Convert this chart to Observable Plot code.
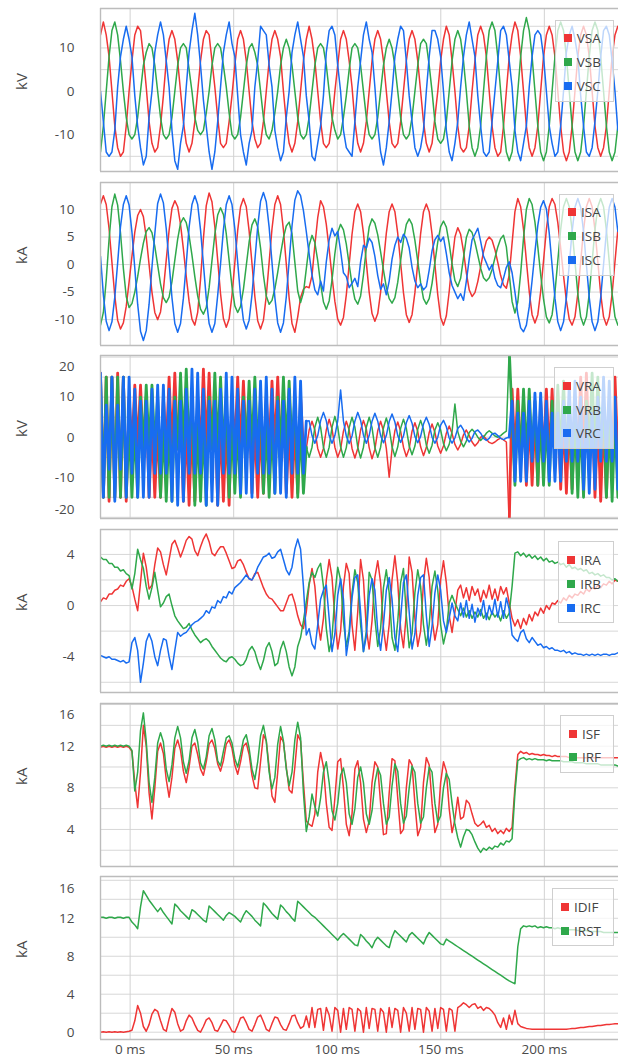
<!DOCTYPE html>
<html><head><meta charset="utf-8">
<script src="https://cdn.jsdelivr.net/npm/d3@7"></script>
<script src="https://cdn.jsdelivr.net/npm/@observablehq/plot@0.6"></script>
<style>
html,body{margin:0;padding:0;background:#fff;}
#chart{position:relative;width:618px;height:1063px;overflow:hidden;font-family:'Open Sans',sans-serif;}
#chart svg{position:absolute;left:0;}
.legend{position:absolute;right:4px;background:rgba(255,255,255,0.72);border:1px solid #cfcfcf;padding:6px 12px 3px 8px;font-size:13.5px;color:#444;}
.legend .row{display:flex;align-items:center;height:23.7px;white-space:nowrap;}
.legend .sw{width:8px;height:8px;margin-right:5px;}
</style></head><body><div id="chart"></div>
<script>
// sampling clock of the record
const t0 = -14.3;   // ms, first sample
const dt = 1.38;    // ms between samples
const N = 182;
const xTicksMs = [0, 50, 100, 150, 200];

// ---- panel 1: source voltages, kV
const VSA = [13,
 16,13,8,0,-8,-13,-15,-14,-8,0,7,13,
 15,14,8,1,-7,-12,-14,-13,-8,-1,7,12,
 14,12,7,0,-7,-12,-14,-12,-7,0,7,12,
 14,13,7,1,-6,-12,-13,-12,-7,-1,6,12,
 14,12,7,0,-7,-11,-13,-12,-7,0,7,12,
 14,12,8,0,-7,-12,-14,-12,-7,0,7,12,
 15,12,7,0,-7,-12,-13,-12,-7,0,6,12,
 14,12,7,1,-7,-12,-14,-12,-7,0,7,12,
 14,12,7,0,-7,-12,-13,-12,-7,0,7,12,
 14,12,7,0,-7,-12,-14,-12,-6,0,7,12,
 15,13,7,0,-8,-13,-14,-13,-8,0,7,13,
 15,13,8,0,-8,-13,-15,-14,-8,0,8,13,
 16,14,8,0,-8,-13,-15,-13,-8,0,8,13,
 15,13,8,0,-8,-14,-16,-14,-8,0,8,13,
 15,13,8,0,-8,-13,-15,-13,-8,0,8,13,
 15];
const VSB = [-14,-8,0,8,14,
 16,13,7,0,-6,-10,-11,-10,-6,0,6,9,
 11,10,6,0,-6,-10,-11,-10,-6,0,6,10,
 11,10,5,0,-6,-9,-10,-9,-5,0,6,10,
 11,10,6,1,-5,-10,-11,-10,-6,0,6,10,
 11,9,6,0,-6,-10,-11,-9,-5,0,6,10,
 12,10,6,0,-6,-10,-11,-10,-6,0,6,10,
 11,10,6,0,-6,-9,-11,-10,-6,-1,5,10,
 11,10,6,0,-6,-10,-11,-10,-6,0,6,10,
 12,10,6,0,-6,-10,-11,-10,-6,0,6,11,
 12,11,6,0,-7,-11,-12,-11,-7,0,7,12,
 14,12,7,0,-8,-13,-15,-13,-8,0,8,14,
 16,14,8,0,-8,-14,-16,-14,-8,0,8,14,
 17,14,8,0,-8,-14,-16,-14,-8,0,8,14,
 16,14,8,0,-8,-14,-16,-14,-8,0,8,14,
 16,14,8,0,-8,-14,-16,-14,-8];
const VSC = [0,-7,-14,-15,-14,-9,1,8,12,
 15,12,8,-1,-8,-13,-17,-15,-6,0,9,13,
 16,13,7,1,-9,-16,-18,-12,-8,1,9,14,
 18,13,6,-2,-8,-14,-18,-14,-7,1,9,13,
 16,11,8,-1,-10,-14,-17,-12,-9,1,7,15,
 14,13,6,1,-9,-13,-16,-14,-6,0,9,13,
 16,12,8,-1,-7,-15,-16,-12,-8,-1,9,14,
 15,13,6,0,-9,-13,-14,-15,-7,1,7,13,
 16,12,9,1,-8,-14,-17,-13,-7,0,8,12,
 15,14,7,-1,-7,-13,-15,-13,-9,0,8,14,
 14,12,8,0,-9,-14,-16,-12,-7,1,8,13,
 16,12,8,-1,-8,-14,-15,-14,-7,0,7,14,
 15,13,7,1,-9,-14,-16,-12,-8,1,8,13,
 14,13,8,0,-8,-12,-15,-14,-8,0,9,13,
 15,12,8,-1,-8,-14,-15,-13,-7,0,8,14,
 15,13,7,0,-9];

// ---- panel 2: source currents, kA
const ISA = [11,12.5,10.9,6.5,0.4,-5.7,-10.1,-11.7,-10.6,-7.6,-3.2,1.5,
 5.9,8.9,10,8.7,5,0,-5,-8.7,-10,-8.6,-4.6,0.8,
 6.2,10.2,11.6,10.5,7.3,2.8,-2.2,-6.7,-9.9,-11,-8.7,-2.7,
 4.7,10.7,13,11.4,6.9,0.8,-5.3,-9.8,-11.4,-9.9,-5.6,0.3,
 6.2,10.5,12,10.5,6.1,0.2,-5.8,-10.2,-11.7,-10.1,-5.7,0.4,
 6.5,10.9,12.5,10.9,6.3,0.1,-6.1,-10.7,-12.3,-9.5,-6,-4.5,
 -4,-4.2,-2,3.5,8.5,11.6,10.5,7.3,2.8,-2.2,-6.7,-9.9,
 -11,-9.6,-5.5,0,5.5,9.6,11,9.6,5.7,0.4,-5,-8.9,
 -10.3,-8.9,-5,0.4,5.7,9.6,11,9.6,5.6,0.3,-5.1,-9.1,
 -10.5,-9.1,-5.1,0.3,5.6,9.6,11,9.6,5.5,0,-5.5,-9.6,
 -11,-9.3,-4.9,0.6,5,6.7,5.5,2.4,-1.5,-4.6,-5.8,-5.1,
 -3.1,-0.4,2.3,4.3,5,4.4,2.7,0.4,-2,-3.7,-4.3,-1.9,
 3.9,9.6,12,10.5,6.4,0.7,-4.9,-9.1,-10.6,-9.1,-4.9,0.7,
 6.4,10.5,12,10.9,7.6,3,-2,-6.6,-9.9,-11,-9.5,-5.3,
 0.5,6.3,10.5,12,10.5,6.3,0.5,-5.3,-9.5,-11,-9.5,-5.3,
 0.5,6.3];
const ISB = [-11,-8.7,-2.8,4.6,10.5,12.8,10.8,5.7,-0.7,-5.8,-7.8,-7.1,
 -5,-2.2,1.05,3.9,6,6.7,5.8,3.3,-0.1,-3.5,-6,-6.9,
 -5.9,-3.1,0.8,4.6,7.5,8.5,7.6,5.2,1.7,-2.2,-5.7,-8.1,
 -9,-7.8,-4.2,0.7,5.5,9,10.3,9.1,5.6,0.8,-4,-7.5,
 -8.7,-7.6,-4.5,-0.2,4.1,7.2,8.3,6.8,3,-1.9,-5.7,-7.2,
 -6.5,-4.4,-1.4,1.9,4.9,7,7.7,5.6,0.4,-4.8,-6.9,-5.1,
 -0.8,3.5,5.3,4,0.7,-3.5,-6.8,-8.1,-6.6,-2.8,2,5.8,
 7.3,6.3,3.7,0,-3.6,-6.3,-7.2,-5.7,-1.9,3,6.8,8.3,
 7.5,5.4,2.3,-1,-4.1,-6.2,-7,-6,-3.2,0.7,4.5,7.3,
 8.3,7.3,4.4,0.6,-3.3,-6.2,-7.2,-6.2,-3.4,0.4,4.1,6.9,
 7.9,6.8,3.8,0.1,-2.9,-4,-2.5,1.2,4.9,6.4,5.8,4.05,
 1.7,-0.65,-2.4,-3,-2.4,-0.9,1.2,3.2,4.7,5.3,3.2,-1.75,
 -6.7,-8.8,-6.8,-1.6,4.8,10,12,10.9,7.7,3.2,-1.8,-6.3,
 -9.5,-10.6,-9.1,-5,0.7,6.4,10.5,12,10.5,6.3,0.5,-5.3,
 -9.5,-11,-9.5,-5.3,0.5,6.3,10.5,12,10.5,6.3,0.5,-5.3,
 -9.5,-11];
const ISC = [1.5,-5.5,-10.3,-12,-10.4,-5.9,0.3,6.9,10.9,12.5,10.8,5.9,
 -0.7,-7.2,-12.1,-13.8,-12,-7.2,-0.5,5.6,11.1,12.8,11.2,6.5,
 0.3,-6,-10.7,-12.3,-10.7,-6.1,0.1,6.8,10.9,12.5,10.9,6.3,
 0.1,-6.1,-10.7,-12.3,-10.7,-5.6,0.1,6.3,10.9,12.5,10.9,6.5,
 0.4,-5.7,-10.1,-11.7,-10.1,-5.5,0.7,6.9,11.5,13.1,11.4,6.8,
 0.4,-6,-10.6,-12.3,-10.6,-5.9,0.6,7,11.7,13.4,12.5,9.8,
 6,1.9,-1.9,-4.6,-5.5,-3,-4.8,0.5,4.5,6.6,5.2,6,
 2.5,-1.5,-2.2,-4.2,-3.4,-2.5,-4,0.5,3.5,3,4.8,4,
 1.5,-2,-4.5,-3.5,-5.5,-3,1,3.5,5,4,5.5,4.8,
 3,-0.5,-3,-4.2,-3.5,-4.6,-4,-1,2.5,4.5,5.3,4.2,
 5,2,-1.5,-3.8,-5,-6.2,-5.3,-6.5,-3,1,4.5,5.5,
 6.6,4.2,1.5,0.3,-1,0,-2.5,-3.8,-4.2,-2.5,-0.5,0.5,
 -1.5,-5,-9,-11.5,-12.2,-11,-7.7,-2.9,2.3,7.1,10.4,11.6,
 10.1,5.7,-0.2,-6.1,-10.4,-12,-10.4,-6,0,6,10.4,12,
 10.4,6,0,-6,-10.4,-12,-10.4,-6,0,6,10.4,12,
 10.4,6];

// ---- panel 3: remote voltages, kV
const VRA = [16,-15,15,-16,15,-15,16,-15,15,-16,10,-3,
 13,-3,13,-3,10,-15,3,-15,3,-15,10,-3,
 15,-3,16,-3,10,-16,3,-17,3,-16,10,-3,
 17,-3,16,-3,10,-17,3,-16,3,-17,10,-3,
 15,-3,14,-3,10,-14,3,-15,3,-14,10,-3,
 14,-3,15,-3,10,-14,3,-15,3,-14,10,-3,
 -2.8,1.8,4,1.8,-2.8,-5,-2.8,1.8,4.5,2,-2.5,-5,
 -3,1.5,4,1.8,-2.8,-5.2,-2.8,1.8,4.2,2,-2.6,-5.4,
 -3,1.6,4,1.6,-2.8,-10,-3,1.6,3.8,1.5,-2.5,-4.8,
 -2.8,1.5,3.6,1.4,-2.4,-4.6,-2.6,1.2,3.3,1.2,-2.2,-4,
 -2.2,1,2.8,0.9,-1.8,-3.2,-1.8,0.6,1.8,0.4,-1.2,-2.2,
 -1.4,0,0.3,-0.5,-1.3,-1.6,-1.2,-0.6,-0.2,-0.7,-1.2,-22,
 12,-5,12,-5,9,-12,5,-12,5,-12,9,-5,
 12,-5,12,-5,9,-13,5,-14,5,-13,9,-5,
 15,-5,16,-5,9,-15,5,-16,5,-15,9,-5,
 15,-5];
const VRB = [15,-15,15,-15,15,-15,15,-15,15,-15,3,-15,
 3,-15,10,-3,13,-3,13,-3,10,-15,3,-16,
 3,-16,10,-3,16,-3,17,-3,10,-17,3,-16,
 3,-17,10,-3,16,-3,15,-3,10,-15,3,-14,
 3,-15,10,-3,14,-3,15,-3,10,-14,3,-15,
 3,-14,10,-3,15,-3,14,-3,10,-15,3,-14,
 -2.5,-5,-2.5,2.5,5,2.5,-2.5,-5,-2.5,2.5,5.2,2.6,
 -2.4,-5,-2.6,2.4,5,2.5,-2.5,-5.2,-2.5,2.5,5,2.4,
 -2.6,-5,-2.5,2.3,4.8,2.3,-2.4,-4.8,-2.4,2.2,4.5,2.2,
 -2.2,-4.4,-2.2,2,4.2,2,-2,-4,-2,1.8,3.6,1.8,
 -1.6,-3.4,-1.8,1.4,8.3,1.4,-1,-2.4,-1,1.2,2,1.2,
 0,-0.8,0,1,1.6,1,0.3,0,0.4,1,1.5,22,
 5,-12,9,-5,12,-5,12,-5,9,-12,5,-12,
 5,-12,9,-5,13,-5,14,-5,9,-14,5,-15,
 5,-15,9,-5,16,-5,15,-5,9,-15,5,-16,
 5,-15];
const VRC = [16,-15,8,-8,15,-16,8,-8,15,-15,15,-9,
 12,-15,9,-15,9,-15,12,-9,13,-9,13,-9,
 12,-16,9,-17,9,-16,12,-9,17,-9,16,-9,
 12,-17,9,-16,9,-17,12,-9,16,-9,15,-9,
 12,-14,9,-14,9,-15,12,-9,14,-9,15,-9,
 12,-14,9,-14,9,-15,12,-9,15,-9,14,-9,
 4,4.1,0.4,-1.5,0.4,4.1,6.2,4.1,0.4,-1.5,0.4,4.1,
 11.8,4,0.3,-1.6,0.3,4,6.2,4.2,0.5,-1.5,0.4,4,
 6,4,0.4,-1.4,0.4,3.9,5.8,3.8,0.4,-1.3,0.3,3.6,
 5.4,3.5,0.2,-1.4,0.2,3.3,5,3.2,0,-1.5,0,3,
 4.2,2.6,-0.2,-1.5,-0.2,2.2,3,1.8,-0.2,-1.2,-0.3,1.4,
 1.8,1,-0.3,-0.8,-0.3,0.8,1,0.4,-0.3,-0.6,-0.2,0,
 9,-11,6,-11,6,-11,9,-6,11,-6,11,-6,
 9,-11,6,-11,6,-11,9,-6,13,-6,14,-6,
 10,-13,6,-14,6,-13,10,-6,15,-6,14,-6,
 10,-13];

// ---- panel 4: remote currents, kA
const IRA = [0.3,0.6,0.5,0.9,0.9,1.2,1.3,1.6,1.5,1.9,2.1,1.5,
 0.5,-0.4,1.8,4.1,3,1.3,1.6,3.2,4.5,4.2,3.2,2.4,
 3.6,4.8,5.1,4.5,3.8,4.4,5.1,5.4,5.2,4.3,3.9,4.6,
 5.2,5.6,5,4.1,3.9,4.3,4.6,4.6,4.1,3.5,2.9,3,
 3.5,3.6,3.2,2.6,2.1,2,2.5,2.6,2,1.4,0.9,0.6,
 0.5,0.2,-0.1,-0.4,-0.4,0.2,0.8,0.9,0.2,-0.8,-1.5,-1.8,
 -0.5,1.6,2.9,1.5,-1.2,-2.7,-1,2,3.6,2.2,-1,-3.4,
 -2,1.5,3.3,2.5,-1.5,-3.5,-0.5,3.6,2,-1.8,-3.4,-1.2,
 2.2,3.5,1.8,-1.8,-3.5,-1.5,2,3.9,1.8,-1.8,-3.3,-0.6,
 3.8,2.6,-1,-3.2,-2,1.8,3.7,2.2,-1,-2.7,-1.5,2,
 3.5,1.8,-0.8,-2.1,-0.5,1.2,1.6,0.6,1.4,0.4,1.5,0.8,
 1.3,0.3,1.2,0.6,1.6,0.5,1.3,0.4,1.5,0.9,1.4,0.2,
 -1,-1.6,-1.1,-1.8,-1,-1.5,-0.7,-1.2,-0.5,-0.8,-0.2,-0.6,
 0,-0.3,0.2,0.1,0.4,0.2,0.6,0.4,0.8,0.6,0.9,0.8,
 1.1,0.9,1.3,1.1,1.4,1.3,1.6,1.4,1.7,1.6,1.9,1.7,
 2,1.9];
const IRB = [3.8,3.6,3.6,3.3,3.3,3,3,2.7,2.8,2.5,2.35,1.3,
 2.5,4.4,3.6,2.9,1.5,0.5,1.4,2.6,1.2,-0.1,0.2,0.7,
 0.9,0,-0.8,-1.2,-1.5,-1.8,-1.7,-1.4,-1.9,-2.3,-2.6,-2.9,
 -2.7,-2.6,-2.8,-3.2,-3.5,-3.8,-4.1,-4.3,-4.4,-4.1,-4,-4.2,
 -4.5,-4.7,-4.6,-4.2,-3.5,-3.2,-3.6,-4.4,-5,-4.3,-3.3,-2.9,
 -3.6,-4.7,-4.5,-3.4,-2.8,-3.6,-4.8,-5.5,-4.8,-3.2,-2.5,-1.2,
 0.3,1.8,2.6,2.2,2.9,3.3,1.5,-1.8,-3.6,-2.5,0.8,3,
 2,-1.2,-3.2,-2,1,2.8,1.8,-1.5,-3.6,-2,2.6,2,
 -1,-3.2,-1.8,1.4,2.8,1,-2.5,-3.5,-1.2,1.8,2.9,-0.8,
 -3.3,-2.2,1,2.8,1.5,-1.5,-3.1,-1.5,1.5,2.7,1.2,-1.5,
 -3,-2,0.2,0.8,0.2,-0.3,-0.8,-0.2,-0.9,-0.4,-1,-0.5,
 -0.9,-0.3,-1,-0.6,-1.1,-0.5,-0.9,-0.6,-1.2,-0.4,-1,-0.6,
 1.5,4.1,4.2,3.9,4.1,3.8,4,3.7,3.9,3.6,3.8,3.5,
 3.7,3.4,3.5,3.3,3.4,3.2,3.3,3,3.2,2.9,3,2.8,
 2.9,2.7,2.8,2.5,2.6,2.4,2.5,2.3,2.4,2.2,2.2,2,
 2.1,1.9];
const IRC = [-3.9,-4,-4.1,-4,-4.2,-4.2,-4.3,-4.4,-4.3,-4.5,-4.4,-2.9,
 -2.5,-3.5,-6,-4.5,-2.8,-2.2,-2.8,-4,-4.7,-3.5,-2.6,-2.7,
 -4,-5,-3.5,-2.1,-2.4,-2.2,-2.1,-1.8,-1.5,-1.3,-1.2,-1,
 -0.8,-0.4,-0.6,-0.1,-0.2,0.4,0.2,0.7,0.6,1.1,0.9,1.4,
 1.6,1.8,2.1,2.4,2.1,2,2.4,3,3.4,3.8,3.9,4.1,
 3.7,3.8,4.2,4.4,3.6,2.8,2.4,3,4.4,5.2,4.4,1.5,
 -2.3,-1.8,-3,-3.4,-1.5,0.5,1.2,1.6,-1,-3.6,-2.2,0.8,
 2.1,0.5,-3.9,-2.4,0.6,2.2,2.4,-0.5,-3.6,-2.4,0.8,2.1,
 1.2,-2,-3.5,-1.5,1.2,2.2,0.5,-2.5,-3.6,-1,1.8,2.4,
 -0.5,-3.4,-2.2,0.8,2.2,2.4,-0.8,-3.2,-1.6,1,2.4,1.2,
 -1.2,-2.1,-1,0.2,-0.8,-1.2,0.2,-0.9,0.4,-1,0.1,-1.3,
 -0.2,-0.8,0.4,-1.1,0,-0.7,0.5,-0.9,0.3,-1,0.6,-0.3,
 -2.3,-2.6,-2.8,-2.1,-1.9,-2.6,-2.9,-2.5,-2.8,-3.1,-3,-3.3,
 -3.2,-3.4,-3.3,-3.5,-3.5,-3.6,-3.5,-3.7,-3.6,-3.8,-3.7,-3.8,
 -3.8,-3.9,-3.8,-3.9,-3.8,-3.9,-3.8,-3.9,-3.8,-3.8,-3.9,-3.8,
 -3.8,-3.7];

// ---- panel 5: fault current magnitudes, kA
const ISF = [11.9,12,11.9,12,11.9,12,11.9,12,11.9,12,11.9,11.5,
 8.5,6.1,9.5,14,12,7.5,5,8,11.5,12.3,11.3,8.8,
 7.1,9,11.8,12.6,11.6,9.6,8.5,10,12,12.3,11.2,9.8,
 9.2,10.5,12.2,12.6,11.8,10.3,9.6,10.6,12.2,12.6,11.8,10.2,
 9.3,10.5,12,12.3,11.2,9.2,8,7.9,10.5,13.1,12.5,10,
 7.2,6.6,9.5,12.9,12.4,10,7.8,7.5,10,13.1,12.5,8.5,
 4.8,4.5,4.3,5.5,9.5,11.4,10,6.5,4.2,3.9,7,10.5,
 10.8,8,4.5,3.4,5.5,9.8,10.6,8.5,5,3.7,4.8,8.5,
 10.5,10,6.5,3.5,3.6,7.5,10.8,10.6,7,3.6,4,8,
 10.7,10.2,6.5,3.4,4.2,8.5,10.9,10.2,6.5,3.7,4.5,8.5,
 10.5,9.6,6,3.7,5,7.1,5,5.2,6.8,6.5,5.5,4.6,
 4.3,4.5,4.8,4.2,4.4,3.8,4.1,3.6,3.9,3.6,4.1,3.8,
 4.2,8.1,11.2,11.5,11.3,11.4,11.2,11.3,11.2,11.2,11.1,11.2,
 11.1,11.1,11,11.1,11,11,11,11,10.9,11,10.9,10.9,
 10.9,10.9,10.9,10.9,10.9,10.9,10.9,10.9,10.9,10.9,10.9,10.9,
 10.9,10.9];
const IRF = [12,12.1,12,12.1,12,12.1,12,12.1,12,12.1,12,11.6,
 7.7,9.5,13.5,15.2,12.5,8.5,6.6,9,12.3,13.3,12.4,9.8,
 8.6,10.2,12.8,13.9,12.8,10.5,9.4,10.6,12.8,13.6,12.4,10.4,
 9.8,11,13,13.7,12.6,10.6,10.1,11.5,12.8,13,12.3,10.8,
 10,11.2,12.6,13.1,11.8,9.8,8.8,10.5,13,14,12.5,9.5,
 7.9,9,12.2,13.9,12.5,9.8,8.2,9.5,12.6,14.3,12.8,7.5,
 3.8,5.2,7.4,6.2,5.3,7,9.5,10.5,8.5,5.8,4.9,6.5,
 9.2,9.9,8.5,5.5,4.5,6,9,10,8.5,5.5,4.5,5.8,
 8.5,9.9,9.2,6.5,4.5,5.2,8.2,10.3,9.6,6.5,4.6,5.3,
 8,10.1,9.5,6.5,4.6,5.2,8,10,9.5,6.5,4.7,5.3,
 8,9.4,8.8,6.5,4.5,3.2,2.3,3.3,4,3.9,3.5,2.8,
 2.2,1.8,2.2,2,2.3,2.1,2.4,2.3,2.7,2.5,2.9,2.8,
 3.1,7.5,10.6,10.8,10.9,10.7,10.8,10.7,10.8,10.7,10.7,10.7,
 10.6,10.7,10.6,10.6,10.6,10.6,10.5,10.5,10.5,10.5,10.4,10.4,
 10.4,10.4,10.3,10.3,10.3,10.3,10.3,10.2,10.2,10.2,10.2,10.2,
 10.2,10.1];

// ---- panel 6: differential and restraint currents, kA
const IDIF = [0,0.05,0,0.05,0,0.05,0,0.05,0,0.05,0.1,0.2,
 1.2,2.8,2,0.6,0.1,0.8,1.9,2.4,2.2,1.2,0.3,0.1,
 1.4,2.5,2.1,0.9,0.1,0.3,1.2,1.8,1.5,0.8,0.2,0,
 0.6,1.3,1.5,1,0.2,0.1,0.7,1.3,1.2,0.7,0.1,0,
 0.7,1.5,1.6,1,0.3,0.1,0.8,1.6,1.8,1.1,0.3,0.1,
 0.9,1.6,1.5,0.8,0.3,0.2,0.9,1.7,1.8,1,0.4,0.6,
 1.7,0.5,2.6,0.5,2.4,2.5,0.2,2.6,1.8,0.1,2.6,2.3,
 0,2.5,0.3,2.6,2.4,0.1,2.5,2.2,0,2.6,0.4,2.5,
 2.4,0.1,2.5,2.1,0,2.6,0.5,2.5,2.3,0,2.6,2,
 0.1,2.6,0.3,2.5,2.4,0,2.6,2.2,0.1,2.5,0.4,2.6,
 2.4,0.1,2.5,2.3,0.1,2.6,2.8,3.1,2.9,2.6,2.9,3,
 2.5,2.7,2.3,2.6,2.5,2.2,1.8,1,0.5,1.5,0.3,1.8,
 0.8,2.3,0.9,0.6,0.5,0.4,0.35,0.3,0.3,0.3,0.3,0.3,
 0.3,0.3,0.3,0.3,0.3,0.3,0.3,0.3,0.35,0.4,0.4,0.45,
 0.5,0.5,0.55,0.6,0.6,0.65,0.7,0.7,0.75,0.8,0.8,0.85,
 0.9,0.9];
const IRST = [12.1,12.1,12,12.1,12.1,12,12.1,12.1,12,12.1,12.1,11.6,
 11.3,10.9,13.2,14.9,14.4,13.9,13.5,13.1,12.7,13.1,12.6,12.2,
 11.8,11.4,13.5,13.2,12.8,12.5,12.2,11.9,12.9,12.7,12.4,12.1,
 11.8,11.6,13.3,13,12.7,12.4,12.1,11.8,12.3,12.6,12.4,12.2,
 11.9,11.6,12.3,12.8,12.5,12.2,11.8,11.5,11.2,13.6,13.3,12.9,
 12.5,12.2,11.9,13.4,13.1,12.7,12.4,12,11.7,13.8,13.5,13.2,
 12.9,12.6,12.3,12.1,11.8,11.5,11.2,10.9,10.6,10.3,10,9.7,
 10.1,10.4,10.1,9.8,9.5,9.2,9.1,10.3,10,9.6,9.3,8.9,
 9.6,10,9.7,9.4,9.1,8.9,10,10.7,10.4,10.1,9.8,9.5,
 10.2,10.5,10.2,9.9,9.6,9.3,10,10.5,10.2,9.9,9.6,9.3,
 9.2,9.8,9.6,9.4,9.2,9,8.8,8.6,8.4,8.2,8,7.8,
 7.6,7.4,7.2,7,6.8,6.6,6.4,6.2,6,5.8,5.6,5.4,
 5.25,5.1,9,10.9,11.2,11.1,11.2,11.1,11.2,11,11.1,11,
 11.1,11,11,10.9,11,10.9,10.9,10.8,10.8,10.8,10.8,10.7,
 10.7,10.7,10.7,10.6,10.6,10.6,10.6,10.6,10.5,10.5,10.5,10.5,
 10.5,10.5];

const palette = ["#ef3535", "#2fa84b", "#186cf0"];

// switching (PWM-like) stretches of the remote voltage record, by sample index
const switchingSpans = [[0, 72], [143, 181]];
const inSwitching = i => switchingSpans.some(([a, b]) => i >= a && i <= b);

const panels = [
  {names:["VSA","VSB","VSC"], series:[VSA,VSB,VSC], unit:"kV", domain:[-18.5,19.1], grid:[-15,-10,-5,0,5,10,15], ticks:[-10,0,10], edge:[], top:7.5},
  {names:["ISA","ISB","ISC"], series:[ISA,ISB,ISC], unit:"kA", domain:[-14.7,14.9], grid:[-10,-5,0,5,10], ticks:[-10,-5,0,5,10], edge:[], top:181.5},
  {names:["VRA","VRB","VRC"], series:[VRA,VRB,VRC], unit:"kV", domain:[-20.3,20.4], grid:[-20,-15,-10,-5,0,5,10,15,20], ticks:[-10,0,10], edge:[{v:20,dy:10},{v:-20,dy:-7.5}], top:355, switching:true},
  {names:["IRA","IRB","IRC"], series:[IRA,IRB,IRC], unit:"kA", domain:[-6.8,5.95], grid:[-6,-4,-2,0,2,4], ticks:[-4,0,4], edge:[], top:529.3},
  {names:["ISF","IRF"], series:[ISF,IRF], unit:"kA", domain:[0.44,16.1], grid:[2,4,6,8,10,12,14,16], ticks:[4,8,12], edge:[{v:16,dy:10}], top:702.7},
  {names:["IDIF","IRST"], series:[IDIF,IRST], unit:"kA", domain:[-0.77,16.4], grid:[0,2,4,6,8,10,12,14,16], ticks:[0,4,8,12], edge:[{v:16,dy:8.6}], top:876}
];

const chart = document.getElementById("chart");
const H = 163;
const textColor = "#4a4a4a";
const tx = (d, i) => t0 + i * dt;

panels.forEach((p, k) => {
  p.series.forEach((s, j) => { if (s.length !== N) throw new Error(p.names[j] + " has " + s.length + " samples"); });
  const last = k === panels.length - 1;
  const mt = 4, mb = last ? 24 : 4;
  const lineMarks = p.series.flatMap((s, j) => p.switching
    ? [
        Plot.lineY(s, {x: tx, y: (d, i) => (i >= 72 && i <= 143) ? d : NaN, stroke: palette[j], strokeWidth: 1.5, clip: true}),
        Plot.lineY(s, {x: tx, y: (d, i) => inSwitching(i) ? d : NaN, stroke: palette[j], strokeWidth: 2.8, clip: true})
      ]
    : [Plot.lineY(s, {x: tx, y: d => d, stroke: palette[j], strokeWidth: 1.5, clip: true})]);
  const marks = [
    Plot.gridY(p.grid, {stroke: "#d7d7d7", strokeOpacity: 1}),
    Plot.gridX(xTicksMs, {stroke: "#d2d2d2", strokeOpacity: 1}),
    ...lineMarks,
    Plot.ruleY([p.domain[0], p.domain[1]], {stroke: "#bcbcbc", strokeWidth: 1.4}),
    Plot.ruleX([-14.3], {stroke: "#bcbcbc", strokeWidth: 1.4}),
    Plot.text(p.ticks, {y: d => d, text: d => String(d), frameAnchor: "left", textAnchor: "end", dx: -26, fontSize: 13.5, fill: textColor}),
    ...p.edge.map(e => Plot.text([e.v], {y: d => d, text: d => String(d), frameAnchor: "left", textAnchor: "end", dx: -26, dy: e.dy, fontSize: 13.5, fill: textColor})),
    Plot.text([p.unit], {text: d => d, frameAnchor: "left", dx: -78, rotate: -90, fontSize: 15, fill: textColor})
  ];
  if (last) marks.push(Plot.text(xTicksMs, {x: d => d, text: d => `${d} ms`, frameAnchor: "bottom", dy: 14, fontSize: 13.5, fill: textColor}));
  const svg = Plot.plot({
    width: 618, height: H + mt + mb,
    marginTop: mt, marginBottom: mb, marginLeft: 100, marginRight: 0,
    x: {domain: [-14.3, 235.8], axis: null},
    y: {domain: p.domain, axis: null},
    style: {fontFamily: "'Open Sans', sans-serif", background: "transparent", color: textColor},
    marks
  });
  svg.style.top = (p.top - mt) + "px";
  chart.appendChild(svg);

  const lg = document.createElement("div");
  lg.className = "legend";
  lg.style.top = (p.top + 12) + "px";
  p.names.forEach((n, j) => {
    const row = document.createElement("div");
    row.className = "row";
    const sw = document.createElement("span");
    sw.className = "sw";
    sw.style.background = palette[j];
    const label = document.createElement("span");
    label.textContent = n;
    row.appendChild(sw); row.appendChild(label);
    lg.appendChild(row);
  });
  chart.appendChild(lg);
});
</script></body></html>
